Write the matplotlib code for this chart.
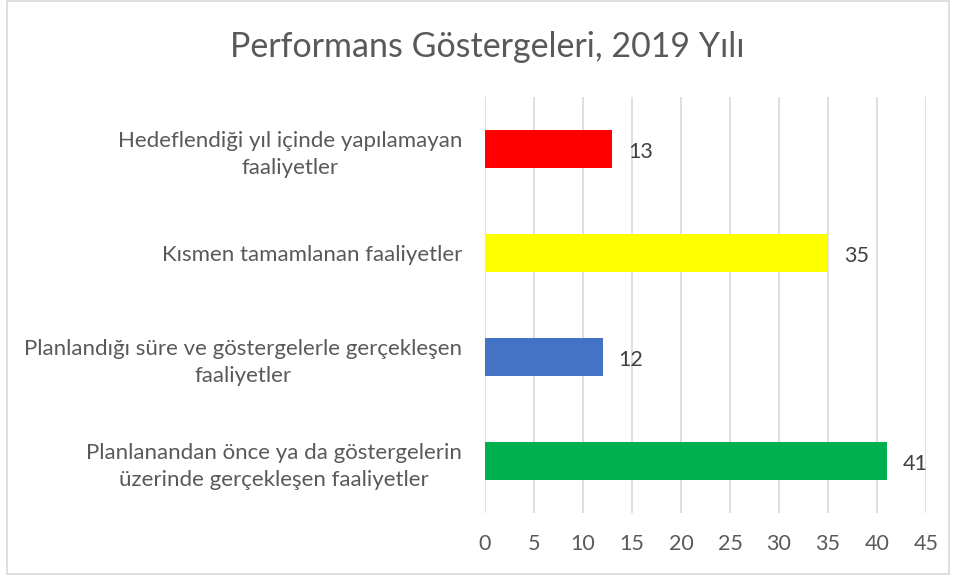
import matplotlib.pyplot as plt
from matplotlib.patches import Rectangle

plt.rcParams['font.family'] = ['Lato', 'DejaVu Sans']

# data (top to bottom as shown)
categories = ['Hedeflendiği yıl içinde yapılamayan\nfaaliyetler',
              'Kısmen tamamlanan faaliyetler',
              'Planlandığı süre ve göstergelerle gerçekleşen\nfaaliyetler',
              'Planlanandan önce ya da göstergelerin\nüzerinde gerçekleşen faaliyetler']
values = [13, 35, 12, 41]
colors = ['#ff0000', '#ffff00', '#4472c4', '#00b050']
xticks = list(range(0, 50, 5))

text_col = '#595959'
grid_col = '#d9d9d9'

fig = plt.figure(figsize=(9.55, 5.79), dpi=100)
ax = fig.add_axes([485 / 955, 1 - 513 / 579, 441 / 955, 416 / 579])

pos = list(range(len(categories)))[::-1]
ax.barh(pos, values, height=0.356, color=colors, zorder=3)
for p, v in zip(pos, values):
    ax.text(v + 1.6, p - 0.03, str(v), va='center', ha='left', fontsize=15.5, color='#404040')

ax.set_xlim(0, 45)
ax.set_ylim(-0.5, len(categories) - 0.5)
ax.set_xticks(xticks)
ax.set_xticklabels([str(t) for t in xticks], fontsize=15.5, color=text_col)
ax.set_yticks(pos)
ax.set_yticklabels(categories, fontsize=16, color=text_col, multialignment='center',
                   linespacing=1.45)
ax.tick_params(axis='both', length=0)
ax.tick_params(axis='x', pad=15)
ax.tick_params(axis='y', pad=16.5)
ax.grid(axis='x', color=grid_col, linewidth=1.2, zorder=0)
for s in ax.spines.values():
    s.set_visible(False)

fig.text(487 / 955, 1 - 47 / 579, 'Performans Göstergeleri, 2019 Yılı',
         ha='center', va='center', fontsize=24.5, color=text_col)

fig.patches.append(Rectangle((7 / 955, 1 - 574 / 579), 942 / 955, 573 / 579,
                             transform=fig.transFigure, fill=False,
                             edgecolor='#d9d9d9', linewidth=1.2))

fig.savefig('out.png', dpi=100, facecolor='white')
